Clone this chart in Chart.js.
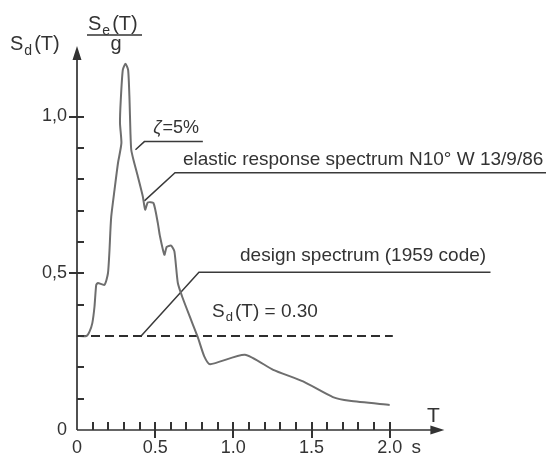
<!DOCTYPE html>
<html>
<head>
<meta charset="utf-8">
<script src="https://cdn.jsdelivr.net/npm/chart.js@4.4.0/dist/chart.umd.min.js"></script>
<style>
  html, body { margin: 0; padding: 0; background: #fff; }
  #wrap { width: 546px; height: 456px; position: relative; }
</style>
</head>
<body>
<div id="wrap"><canvas id="spectrumChart"></canvas></div>
<script>
// elastic response spectrum N10° W 13/9/86 (zeta = 5%)
const periods = [0, 0.06, 0.08, 0.098, 0.112, 0.123, 0.134, 0.176, 0.198, 0.208, 0.213, 0.219,
    0.24, 0.262, 0.284, 0.275, 0.28, 0.293, 0.31, 0.327, 0.336, 0.342, 0.347, 0.361, 0.389,
    0.421, 0.436, 0.453, 0.489, 0.517, 0.53, 0.559, 0.574, 0.602, 0.623, 0.645, 0.676, 0.729,
    0.772, 0.814, 0.851, 1.074, 1.255, 1.446, 1.637, 1.744, 2.0];
const spectrum = [0.30, 0.30, 0.314, 0.341, 0.394, 0.463, 0.469, 0.463, 0.50, 0.575, 0.63, 0.681,
    0.766, 0.851, 0.915, 0.979, 1.053, 1.149, 1.168, 1.149, 1.053, 0.946, 0.894, 0.862, 0.809,
    0.745, 0.703, 0.726, 0.724, 0.66, 0.62, 0.559, 0.584, 0.588, 0.57, 0.469, 0.421, 0.352,
    0.297, 0.235, 0.21, 0.24, 0.192, 0.155, 0.105, 0.093, 0.08];

// design spectrum (1959 code): Sd(T) = 0.30
const designPeriods = [0, 2.02];
const designValues = [0.30, 0.30];

// leader lines for the labels
const zetaLeaderT = [0.374, 0.431, 0.805];
const zetaLeaderS = [0.894, 0.920, 0.920];
const elasticLeaderT = [0.431, 0.627, 3.0];
const elasticLeaderS = [0.731, 0.821, 0.821];
const designLeaderT = [0.41, 0.78, 2.645];
const designLeaderS = [0.30, 0.503, 0.503];

// ticks
const xTickValues = [0, 0.5, 1.0, 1.5, 2.0];
const xTickLabels = ['0', '0.5', '1.0', '1.5', '2.0'];
const yTickValues = [0, 0.5, 1.0];
const yTickLabels = ['0', '0,5', '1,0'];
const xTickMarks = [0.1, 0.2, 0.3, 0.4, 0.5, 0.6, 0.7, 0.8, 0.9, 1.0,
    1.1, 1.2, 1.3, 1.4, 1.5, 1.6, 1.7, 1.8, 1.9, 2.0];
const yTickMarks = [0.1, 0.2, 0.3, 0.4, 0.5, 0.6, 0.7, 0.8, 0.9, 1.0];

const FONT = '"Liberation Sans", Arial, sans-serif';
const INK = '#333';

function toPoints(xs, ys) {
    return xs.map((v, i) => ({ x: v, y: ys[i] }));
}

function leader(xs, ys) {
    return {
        data: toPoints(xs, ys),
        borderColor: '#3a3a3a',
        borderWidth: 1.5,
        pointRadius: 0,
        tension: 0
    };
}

// S + subscript + rest, left aligned on a baseline
function subText(ctx, x, y, base, sub, rest, size) {
    ctx.font = `${size}px ${FONT}`;
    ctx.fillText(base, x, y);
    x += ctx.measureText(base).width + 1;
    ctx.font = `${Math.round(size * 0.7)}px ${FONT}`;
    ctx.fillText(sub, x, y + size * 0.25);
    x += ctx.measureText(sub).width + 2;
    ctx.font = `${size}px ${FONT}`;
    ctx.fillText(rest, x, y);
}

const axesPlugin = {
    id: 'axesAndNotes',
    afterDraw(chart) {
        const { ctx } = chart;
        const xs = chart.scales.x;
        const ys = chart.scales.y;
        const x0 = xs.getPixelForValue(0);
        const y0 = ys.getPixelForValue(0);
        const xEnd = xs.getPixelForValue(2.35);
        const yEnd = ys.getPixelForValue(1.225);

        ctx.save();
        ctx.setLineDash([]);
        ctx.strokeStyle = INK;
        ctx.fillStyle = INK;
        ctx.lineWidth = 1.7;

        // axis lines
        ctx.beginPath();
        ctx.moveTo(x0, y0);
        ctx.lineTo(xEnd - 6, y0);
        ctx.moveTo(x0, y0);
        ctx.lineTo(x0, yEnd + 6);
        ctx.stroke();

        // arrow heads
        ctx.beginPath();
        ctx.moveTo(xEnd, y0);
        ctx.lineTo(xEnd - 14, y0 - 4.5);
        ctx.lineTo(xEnd - 14, y0 + 4.5);
        ctx.closePath();
        ctx.moveTo(x0, yEnd);
        ctx.lineTo(x0 - 4.5, yEnd + 14);
        ctx.lineTo(x0 + 4.5, yEnd + 14);
        ctx.closePath();
        ctx.fill();

        // tick marks: minor inside, labelled ones cross the axis
        ctx.lineWidth = 2;
        xTickMarks.forEach(v => {
            const px = Math.round(xs.getPixelForValue(v));
            const major = xTickValues.includes(v);
            ctx.beginPath();
            ctx.moveTo(px, y0 - 8);
            ctx.lineTo(px, major ? y0 + 8 : y0);
            ctx.stroke();
        });
        yTickMarks.forEach(v => {
            const py = Math.round(ys.getPixelForValue(v));
            const major = yTickValues.includes(v);
            ctx.beginPath();
            ctx.moveTo(major ? x0 - 8 : x0, py);
            ctx.lineTo(x0 + 7, py);
            ctx.stroke();
        });

        // axis titles
        ctx.textBaseline = 'alphabetic';
        ctx.textAlign = 'left';
        subText(ctx, 10, 50, 'S', 'd', '(T)', 20);
        subText(ctx, 88, 30, 'S', 'e', '(T)', 20);
        ctx.lineWidth = 1.5;
        ctx.beginPath();
        ctx.moveTo(87, 35);
        ctx.lineTo(142, 35);
        ctx.stroke();
        ctx.textAlign = 'center';
        ctx.font = `20px ${FONT}`;
        ctx.fillText('g', 116, 50);

        ctx.font = `21px ${FONT}`;
        ctx.fillText('T', xs.getPixelForValue(2.28), y0 - 8);
        ctx.font = `19px ${FONT}`;
        ctx.textBaseline = 'middle';
        ctx.fillText('s', xs.getPixelForValue(2.17), y0 + 18);

        // notes
        ctx.textBaseline = 'alphabetic';
        ctx.textAlign = 'left';
        ctx.font = `italic 18px ${FONT}`;
        ctx.fillText('ζ', xs.getPixelForValue(0.487), ys.getPixelForValue(0.948));
        const zw = ctx.measureText('ζ').width;
        ctx.font = `18px ${FONT}`;
        ctx.fillText('=5%', xs.getPixelForValue(0.487) + zw + 1, ys.getPixelForValue(0.948));

        ctx.font = `19px ${FONT}`;
        ctx.fillText('elastic response spectrum N10° W 13/9/86',
            xs.getPixelForValue(0.678), ys.getPixelForValue(0.846));
        ctx.fillText('design spectrum (1959 code)',
            xs.getPixelForValue(1.043), ys.getPixelForValue(0.54));
        subText(ctx, xs.getPixelForValue(0.864), ys.getPixelForValue(0.362), 'S', 'd', '(T) = 0.30', 19);

        ctx.restore();
    }
};

new Chart(document.getElementById('spectrumChart'), {
    type: 'line',
    data: {
        datasets: [
            {
                label: 'elastic response spectrum N10° W 13/9/86',
                data: toPoints(periods, spectrum),
                borderColor: '#6e6e6e',
                borderWidth: 2,
                pointRadius: 0,
                tension: 0.2
            },
            {
                label: 'design spectrum (1959 code)',
                data: toPoints(designPeriods, designValues),
                borderColor: '#2e2e2e',
                borderWidth: 2,
                borderDash: [9, 5],
                pointRadius: 0,
                tension: 0
            },
            leader(zetaLeaderT, zetaLeaderS),
            leader(elasticLeaderT, elasticLeaderS),
            leader(designLeaderT, designLeaderS)
        ]
    },
    options: {
        responsive: true,
        maintainAspectRatio: false,
        animation: false,
        layout: { padding: { top: 46, left: 0, right: 0, bottom: 0 } },
        plugins: {
            legend: { display: false },
            tooltip: { enabled: false }
        },
        scales: {
            x: {
                type: 'linear',
                min: 0,
                max: 3.0,
                border: { display: false },
                grid: { display: false, drawTicks: false },
                afterBuildTicks: s => { s.ticks = xTickValues.map(v => ({ value: v })); },
                afterFit: s => { s.height = 26; },
                ticks: {
                    padding: 7,
                    maxRotation: 0,
                    autoSkip: false,
                    color: INK,
                    font: { family: FONT, size: 18 },
                    callback: v => xTickLabels[xTickValues.indexOf(v)]
                }
            },
            y: {
                min: 0,
                max: 1.225,
                border: { display: false },
                grid: { display: false, drawTicks: false },
                afterBuildTicks: s => { s.ticks = yTickValues.map(v => ({ value: v })); },
                afterFit: s => { s.width = 77; },
                ticks: {
                    padding: 10,
                    autoSkip: false,
                    color: INK,
                    font: { family: FONT, size: 18 },
                    callback: v => yTickLabels[yTickValues.indexOf(v)]
                }
            }
        }
    },
    plugins: [axesPlugin]
});
</script>
</body>
</html>
